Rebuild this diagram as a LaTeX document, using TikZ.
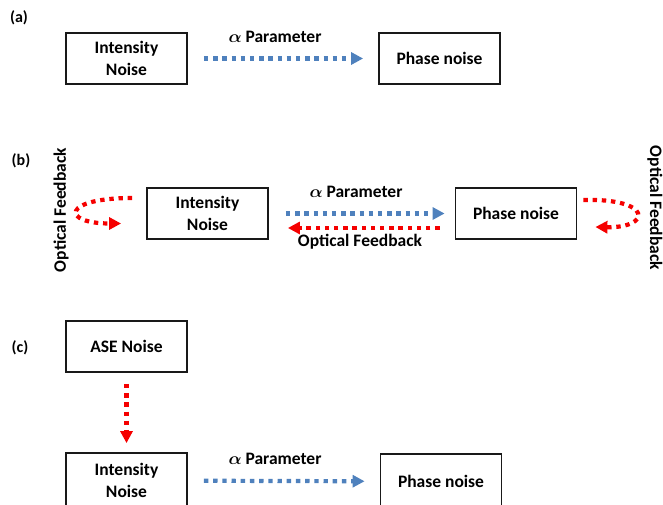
\documentclass[tikz,border=0pt]{standalone}
\usepackage{bm}
\usepackage{fontspec}
\setmainfont{Carlito}
\usetikzlibrary{arrows.meta}
\definecolor{fblue}{RGB}{79,129,189}
\definecolor{fred}{RGB}{245,0,0}
\tikzset{
  box/.style={draw=black!90, line width=1.8pt, minimum width=121pt, minimum height=51pt, inner sep=0pt, align=center, font=\fontsize{17.5}{21.5}\selectfont\bfseries},
  lbl/.style={inner sep=0pt, font=\fontsize{17.5}{20}\selectfont\bfseries},
  tag/.style={inner sep=0pt, font=\fontsize{16}{18}\selectfont\bfseries},
  dotline/.style={line width=4.2pt, dash pattern=on 4.4pt off 4.8pt},
  bluearrow/.style={dotline, draw=fblue, -{Triangle[length=12pt,width=12pt,fill=fblue]}},
  redarrow/.style={dotline, draw=fred, -{Triangle[length=12pt,width=12pt,fill=fred]}},
}
\begin{document}
\begin{tikzpicture}[x=1pt,y=-1pt]
\useasboundingbox (0,0) rectangle (663,505);
\clip (0,0) rectangle (663,505);
% (a)
\node[tag] (ta) at (19,18) {(a)};
\node[box] (a1) at (126.5,58.5) {Intensity\\Noise};
\node[box] (a2) at (439.5,58.5) {Phase noise};
\draw[bluearrow, shorten <=16pt, shorten >=15pt] (a1) -- (a2);
\node[lbl] (pa) at (275,37) {$\bm{\alpha}$ Parameter};
% (b)
\node[tag] (tb) at (21,161) {(b)};
\node[box] (b1) at (207.5,213.5) {Intensity\\Noise};
\node[box] (b2) at (516,213.5) {Phase noise};
\draw[bluearrow, shorten <=17pt, shorten >=10pt] (b1) -- (b2);
\draw[redarrow, shorten <=15pt, shorten >=19pt] ([yshift=-14.5pt]b2.west) -- ([yshift=-14.5pt]b1.east);
\node[lbl] (pb) at (356,192) {$\bm{\alpha}$ Parameter};
\node[lbl] (ofb) at (360,242) {Optical Feedback};
\draw[redarrow] ([shift={(-14,-15.5)}]b1.west) .. controls +(-71,0) and +(-60,0) .. ([shift={(-25,10)}]b1.west);
\draw[redarrow] ([shift={(6,-13.5)}]b2.east) .. controls +(69,-2) and +(57,1) .. ([shift={(18,13.5)}]b2.east);
\node[lbl, rotate=90] (ofl) at (61,210) {Optical Feedback};
\node[lbl, rotate=-90] (ofr) at (655,208) {Optical Feedback};
% (c)
\node[tag] (tc) at (20,348) {(c)};
\node[box] (c0) at (126.5,346.5) {ASE Noise};
\node[box, minimum height=55pt] (c1) at (126.5,480.5) {Intensity\\Noise};
\node[box, minimum height=55pt] (c2) at (441,481.5) {Phase noise};
\draw[redarrow, shorten <=11pt, shorten >=9pt] (c0) -- (c1);
\draw[bluearrow, shorten <=16pt, shorten >=15pt] (c1) -- (c2);
\node[lbl] (pc) at (275,459) {$\bm{\alpha}$ Parameter};
\end{tikzpicture}
\end{document}
